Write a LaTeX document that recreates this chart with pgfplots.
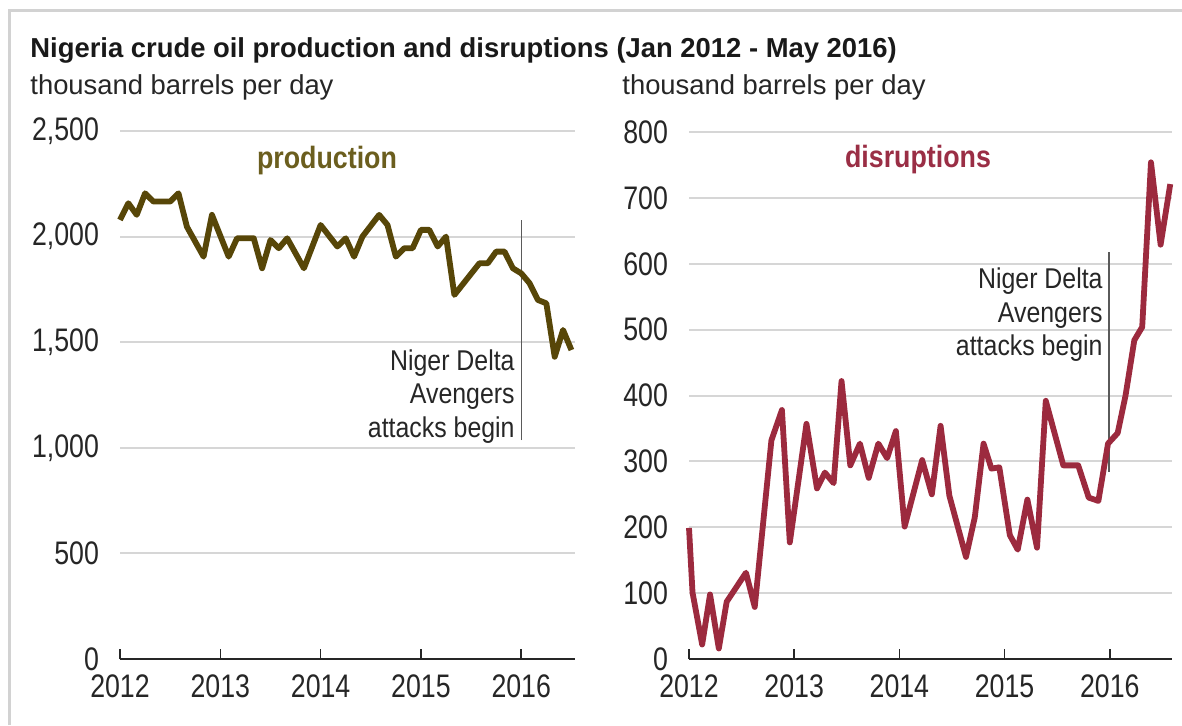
\documentclass[border=0pt]{standalone}
\usepackage{fontspec}
\setmainfont{Liberation Sans}
\newfontfamily\narrow{Liberation Sans}[FakeStretch=0.87]
\newfontfamily\ticknarrow{Liberation Sans}[FakeStretch=0.82]
\usepackage{pgfplots}
\pgfplotsset{compat=1.18}
\definecolor{prodline}{HTML}{574608}
\definecolor{prodtext}{HTML}{6B5E1E}
\definecolor{disline}{HTML}{9C2A3E}
\definecolor{distext}{HTML}{9A2E45}
\definecolor{gridgray}{HTML}{D6D6D6}
\definecolor{annot}{HTML}{5A5A5A}

\pgfplotsset{
  eiastyle/.style={
    scale only axis,
    anchor=south west,
    xmin=0, ymin=0,
    axis x line*=bottom,
    axis y line*=left,
    y axis line style={draw=none},
    x axis line style={-, line width=1.3pt, color=black!85},
    xtick={0,12,24,36,48},
    xticklabels={2012,2013,2014,2015,2016},
    x tick style={line width=0.8pt, color=black!85},
    xtick align=inside,
    major tick length=5pt,
    y tick style={draw=none},
    ymajorgrids,
    grid style={gridgray, line width=1pt},
    tick label style={font=\ticknarrow\fontsize{16.3}{19}\selectfont, text=black!85},
    /pgf/number format/assume math mode=true,
    /pgf/number format/1000 sep={,},
    yticklabel style={xshift=-7pt},
    xticklabel style={yshift=-4.5pt},
    clip=false,
  }
}

\begin{document}
\begin{tikzpicture}
\useasboundingbox (0,0) rectangle (591pt,-362.5pt);
\fill[white] (0,0) rectangle (591pt,-362.5pt);
\draw[gray!35, line width=1.5pt] (4.5pt,-362.5pt) -- (4.5pt,-5pt) -- (591pt,-5pt);

% left: production
\begin{axis}[eiastyle,
  at={(60pt,-329.5pt)},
  width=227.5pt, height=264pt,
  xmax=54.43, ymax=2500,
  ytick={0,500,1000,1500,2000,2500},
]
\draw[annot, line width=0.6pt] (axis cs:48,1037) -- (axis cs:48,2080);
\addplot[prodline, line width=2.9pt, line join=round, no marks] coordinates {
(0,2079) (1,2158) (2,2103) (3,2205) (4,2166) (6,2166) (7,2205) (8,2047)
(10,1905) (11,2103) (13,1905) (14,1992) (16,1992) (17,1850) (18,1984)
(19,1945) (20,1992) (22,1850) (24,2055) (26,1953) (27,1992) (28,1905)
(29,2000) (31,2103) (32,2055) (33,1905) (34,1945) (35,1945) (36,2032)
(37,2032) (38,1953) (39,2000) (40,1724) (43,1874) (44,1874) (45,1929)
(46,1929) (47,1850) (48,1826) (49,1779) (50,1700) (51,1684) (52,1431)
(53,1558) (54,1463)
};
\end{axis}

% right: disruptions
\begin{axis}[eiastyle,
  at={(344.5pt,-329.5pt)},
  width=241.5pt, height=263.5pt,
  xmax=55.1, ymax=800,
  ytick={0,100,200,300,400,500,600,700,800},
]
\draw[annot, line width=0.6pt] (axis cs:47.9,284) -- (axis cs:47.9,618);
\addplot[disline, line width=2.9pt, line join=round, no marks] coordinates {
(0,199) (0.4,101) (1.5,22) (2.4,98) (3.4,16) (4.3,87) (6.5,131) (7.5,79)
(9.4,332) (10.6,378) (11.5,177) (13.4,357) (14.6,259) (15.5,283) (16.5,267)
(17.4,422) (18.4,294) (19.5,327) (20.5,275) (21.6,327) (22.6,305) (23.6,346)
(24.6,201) (26.6,302) (27.7,250) (28.7,354) (29.7,248) (31.6,155) (32.6,215)
(33.6,327) (34.5,289) (35.4,291) (36.6,188) (37.5,166) (38.6,242) (39.7,169)
(40.7,392) (42.7,294) (44.4,294) (45.6,245) (46.7,240) (47.8,327) (48.9,343)
(49.8,400) (50.8,484) (51.7,504) (52.7,754) (53.8,629) (54.9,721)
};
\end{axis}

% titles
\node[anchor=base west, inner sep=0, font=\bfseries\fontsize{13.7}{16}\selectfont, text=black!90]
  at (15pt,-28.5pt) {Nigeria crude oil production and disruptions (Jan 2012 - May 2016)};
\node[anchor=base west, inner sep=0, font=\fontsize{13.7}{16}\selectfont, text=black!85]
  at (15pt,-47pt) {thousand barrels per day};
\node[anchor=base west, inner sep=0, font=\fontsize{13.7}{16}\selectfont, text=black!85]
  at (311pt,-47pt) {thousand barrels per day};

% series labels
\node[anchor=base, inner sep=0, font=\narrow\bfseries\fontsize{15.4}{18}\selectfont, text=prodtext]
  at (163.5pt,-84pt) {production};
\node[anchor=base, inner sep=0, font=\narrow\bfseries\fontsize{15.4}{18}\selectfont, text=distext]
  at (459pt,-83.5pt) {disruptions};

% annotations
\begin{scope}[every node/.style={anchor=base east, inner sep=0, font=\narrow\fontsize{14.3}{17}\selectfont, text=black!85}]
\node at (257.5pt,-185pt) {Niger Delta};
\node at (257.5pt,-201.5pt) {Avengers};
\node at (257.5pt,-218.5pt) {attacks begin};
\node at (551.5pt,-144pt) {Niger Delta};
\node at (551.5pt,-161pt) {Avengers};
\node at (551.5pt,-177.5pt) {attacks begin};
\end{scope}
\end{tikzpicture}
\end{document}
